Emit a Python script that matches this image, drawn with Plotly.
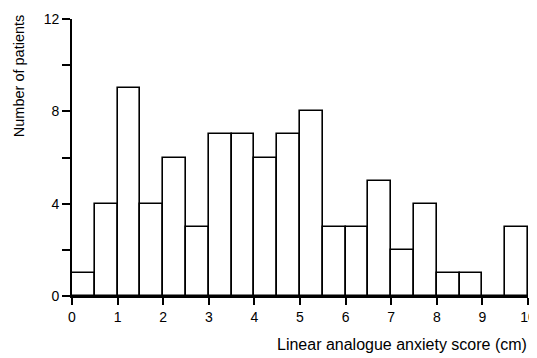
import plotly.graph_objects as go

bin_starts = [0, 0.5, 1, 1.5, 2, 2.5, 3, 3.5, 4, 4.5, 5, 5.5, 6, 6.5, 7, 7.5, 8, 8.5, 9, 9.5]
counts = [1, 4, 9, 4, 6, 3, 7, 7, 6, 7, 8, 3, 3, 5, 2, 4, 1, 1, 0, 3]
bin_width = 0.5
x_ticks = list(range(0, 11))
y_ticks = [0, 2, 4, 6, 8, 10, 12]
y_labels = ["0", "", "4", "", "8", "", "12"]

FONT = "Liberation Sans, Arial, Helvetica, sans-serif"

fig = go.Figure()
fig.add_trace(go.Bar(
    x=[s + bin_width / 2 for s in bin_starts],
    y=counts,
    width=bin_width,
    marker=dict(color="white", line=dict(color="black", width=1.6)),
    cliponaxis=False,
))

# page body has an 8px default margin, so the figure is sized to fit the window
fig.update_layout(
    width=529, height=350,
    margin=dict(l=64, r=9, t=11, b=62),
    paper_bgcolor="white", plot_bgcolor="white",
    showlegend=False,
    font=dict(family=FONT, size=14, color="black"),
    bargap=0,
    xaxis=dict(range=[0, 10], tickvals=x_ticks, ticks="outside", ticklen=7,
               tickwidth=1.6, tickcolor="black", showline=True, linecolor="black",
               linewidth=1.6, showgrid=False, zeroline=False, automargin=False,
               ticklabeloverflow="allow", tickfont=dict(size=14)),
    yaxis=dict(range=[0, 12], tickvals=y_ticks, ticktext=y_labels, ticks="outside",
               ticklen=8, tickwidth=1.6, tickcolor="black", showline=True,
               linecolor="black", linewidth=1.8, showgrid=False, zeroline=False,
               automargin=False, tickfont=dict(size=14)),
    annotations=[
        dict(text="Linear analogue anxiety score (cm)", xref="paper", yref="paper",
             x=1.003, y=-0.138, xanchor="right", yanchor="top", showarrow=False,
             font=dict(size=16)),
        dict(text="Number of patients", xref="paper", yref="paper",
             x=-0.117, y=1.025, xanchor="center", yanchor="top", textangle=-90,
             showarrow=False, font=dict(size=14.5)),
    ],
)

fig.write_html("out.html")
